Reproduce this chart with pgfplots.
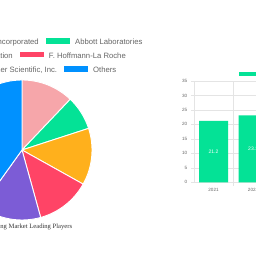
\documentclass[border=0pt]{standalone}
\usepackage{fontspec}
\setmainfont{Liberation Sans}
\newfontfamily\seriffont{Liberation Serif}
\usepackage{pgfplots}
\pgfplotsset{compat=1.18}
\definecolor{piePink}{RGB}{246,166,170}
\definecolor{pieGreen}{RGB}{4,226,150}
\definecolor{pieOrange}{RGB}{255,176,28}
\definecolor{pieRed}{RGB}{255,68,102}
\definecolor{piePurple}{RGB}{124,92,214}
\definecolor{pieBlue}{RGB}{0,145,255}
\definecolor{txtgray}{RGB}{102,102,102}
\definecolor{gridgray}{RGB}{228,228,228}
\begin{document}
\begin{tikzpicture}
\path[use as bounding box] (0,0) rectangle (256pt,256pt);
\fill[white] (0,0) rectangle (256pt,256pt);
\clip (0,0) rectangle (256pt,256pt);
% ---------- bar chart ----------
\begin{axis}[
  at={(193.7pt,73.7pt)}, anchor=south west,
  x=39.6pt, y=2.894pt,
  xmin=-0.5, xmax=5.5, ymin=0, ymax=35,
  ybar, bar width=29pt,
  xtick={0,1}, xticklabels={2021,2022},
  minor xtick={0.5,1.5,2.5,3.5,4.5,5.5},
  ytick={0,5,...,35},
  xminorgrids, ymajorgrids,
  axis x line*=bottom, axis y line*=left,
  axis line style={gridgray,-},
  grid style={gridgray, line width=0.5pt},
  major x tick style={draw=none},
  tick align=outside,
  major tick length=2.5pt, minor tick length=3.5pt,
  tick style={gridgray, line width=0.5pt},
  ticklabel style={font=\fontsize{4.6}{5}\selectfont, text=txtgray},
  yticklabel style={xshift=-0.5pt},
  /pgf/number format/assume math mode=true,
  visualization depends on=y \as \rawy,
  nodes near coords={\pgfmathprintnumber[fixed,precision=1,fixed zerofill,assume math mode=true]{\pgfplotspointmeta}},
  every node near coord/.append style={font=\fontsize{5}{6}\selectfont, text=white, anchor=center, yshift={-1.447*\rawy}},
]
\addplot[fill=pieGreen, draw=none] coordinates {(0,21.2) (1,23.1)};
\end{axis}
% ---------- pie chart and legends (pixel axis) ----------
\begin{axis}[
  at={(0pt,0pt)}, anchor=south west,
  x=1pt, y=1pt, xmin=0, xmax=256, ymin=0, ymax=256,
  hide axis, clip=false,
]
\filldraw[fill=piePink,  draw=white, line width=0.9pt] (axis cs:22,106) -- +(90:70pt) arc[start angle=90, end angle={90-3.6*12.1}, radius=70pt] -- cycle;
\filldraw[fill=pieGreen, draw=white, line width=0.9pt] (axis cs:22,106) -- +({90-3.6*12.1}:70pt) arc[start angle={90-3.6*12.1}, end angle={90-3.6*20.0}, radius=70pt] -- cycle;
\filldraw[fill=pieOrange,draw=white, line width=0.9pt] (axis cs:22,106) -- +({90-3.6*20.0}:70pt) arc[start angle={90-3.6*20.0}, end angle={90-3.6*33.1}, radius=70pt] -- cycle;
\filldraw[fill=pieRed,   draw=white, line width=0.9pt] (axis cs:22,106) -- +({90-3.6*33.1}:70pt) arc[start angle={90-3.6*33.1}, end angle={90-3.6*45.7}, radius=70pt] -- cycle;
\filldraw[fill=piePurple,draw=white, line width=0.9pt] (axis cs:22,106) -- +({90-3.6*45.7}:70pt) arc[start angle={90-3.6*45.7}, end angle={90-3.6*59.9}, radius=70pt] -- cycle;
\filldraw[fill=pieBlue,  draw=white, line width=0.9pt] (axis cs:22,106) -- +({90-3.6*59.9}:70pt) arc[start angle={90-3.6*59.9}, end angle={90-3.6*100}, radius=70pt] -- cycle;
% legend
\node[anchor=mid east, inner sep=0, font=\fontsize{7.7}{9}\selectfont, text=txtgray] at (axis cs:39,214) {Bio-Rad Laboratories, Incorporated};
\fill[pieGreen] (axis cs:46,212.3) rectangle (axis cs:70.3,218);
\node[anchor=mid west, inner sep=0, font=\fontsize{7.7}{9}\selectfont, text=txtgray] at (axis cs:75,214) {Abbott Laboratories};
\node[anchor=mid east, inner sep=0, font=\fontsize{7.7}{9}\selectfont, text=txtgray] at (axis cs:13,200.3) {Danaher Corporation};
\fill[pieRed] (axis cs:20,198.5) rectangle (axis cs:44.3,204.2);
\node[anchor=mid west, inner sep=0, font=\fontsize{7.7}{9}\selectfont, text=txtgray] at (axis cs:48.7,200.3) {F. Hoffmann-La Roche};
\node[anchor=mid east, inner sep=0, font=\fontsize{7.7}{9}\selectfont, text=txtgray] at (axis cs:57.3,186) {Thermo Fisher Scientific, Inc.};
\fill[pieBlue] (axis cs:64,184.2) rectangle (axis cs:88.3,189.9);
\node[anchor=mid west, inner sep=0, font=\fontsize{7.7}{9}\selectfont, text=txtgray] at (axis cs:93,186) {Others};
% title
\node[anchor=mid east, inner sep=0, font=\seriffont\fontsize{6.6}{8}\selectfont, text=black!80] at (axis cs:72.3,30.5) {Drug Screening Market Leading Players};
% bar legend
\fill[pieGreen] (axis cs:239,179.7) rectangle (axis cs:263,184.4);
\node[anchor=mid west, inner sep=0, font=\fontsize{6}{7}\selectfont, text=txtgray] at (axis cs:267,181.5) {Market Size (Billion)};
\end{axis}
\end{tikzpicture}
\end{document}
